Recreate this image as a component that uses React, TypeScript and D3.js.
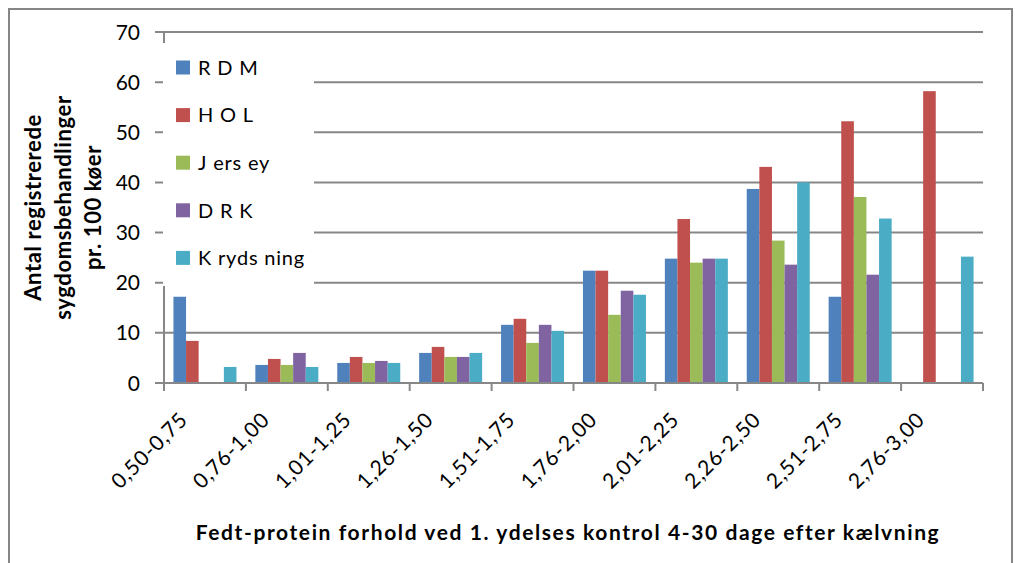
import React from "react";
import * as d3 from "d3";

const categories = [
  "0,50-0,75", "0,76-1,00", "1,01-1,25", "1,26-1,50", "1,51-1,75",
  "1,76-2,00", "2,01-2,25", "2,26-2,50", "2,51-2,75", "2,76-3,00",
];
const seriesNames = ["RDM", "HOL", "Jersey", "DRK", "Krydsning"];
const legendLabels = ["R D M", "H O L", "J ers ey", "D R K", "K ryds ning"];
const seriesColors = ["#4F81BD", "#C0504D", "#9BBB59", "#8064A2", "#4BACC6"];

const RDM = [17.2, 3.6, 4.0, 6.0, 11.6, 22.4, 24.8, 38.7, 17.2, null];
const HOL = [8.4, 4.8, 5.2, 7.2, 12.8, 22.4, 32.7, 43.1, 52.2, 58.2];
const Jersey = [null, 3.6, 4.0, 5.2, 8.0, 13.6, 24.0, 28.4, 37.1, null];
const DRK = [null, 6.0, 4.4, 5.2, 11.6, 18.4, 24.8, 23.6, 21.6, null];
const Krydsning = [3.2, 3.2, 4.0, 6.0, 10.4, 17.6, 24.8, 40.0, 32.8, 25.2];
const seriesValues = [RDM, HOL, Jersey, DRK, Krydsning];

const yTicks = [0, 10, 20, 30, 40, 50, 60, 70];
const yTitleLines = ["Antal registrerede", "sygdomsbehandlinger", "pr. 100 køer"];
const xTitle = "Fedt-protein forhold ved 1. ydelses kontrol 4-30 dage efter kælvning";

const W = 1015;
const H = 563;
const plot = { left: 164, right: 983, top: 32, bottom: 383 };
const GRID = "#878787";
const FONT = "Lato, 'Open Sans', sans-serif";

export default function App() {
  const x = d3.scaleBand<string>().domain(categories).range([plot.left, plot.right]);
  const bw = x.bandwidth();
  const gap = (bw * 0.75) / 6.5;
  const xs = d3
    .scaleBand<string>()
    .domain(seriesNames)
    .range([gap, bw - gap]);
  const y = d3.scaleLinear().domain([0, 70]).range([plot.bottom, plot.top]);

  const legendY = (i: number) => 67.5 + i * 47.6;

  return (
    <svg
      width={W}
      height={H}
      style={{ position: "absolute", left: 0, top: 0, background: "#fff" }}
      fontFamily={FONT}
    >
      <rect x={0} y={0} width={W} height={H} fill="#fff" />
      <rect x={9} y={9} width={1003} height={620} fill="none" stroke="#868686" strokeWidth={2} />

      {/* gridlines */}
      {yTicks.map((t) => (
        <line key={"g" + t} x1={plot.left - 9} x2={plot.right} y1={y(t)} y2={y(t)} stroke={GRID} strokeWidth={2} />
      ))}
      {/* y axis */}
      <line x1={plot.left} x2={plot.left} y1={plot.top} y2={plot.bottom + 8} stroke={GRID} strokeWidth={2} />
      {/* x ticks */}
      {categories.map((c, i) => (
        <line key={"xt" + i} x1={(x(c) as number) + bw} x2={(x(c) as number) + bw} y1={plot.bottom} y2={plot.bottom + 8} stroke={GRID} strokeWidth={2} />
      ))}

      {/* bars */}
      {seriesValues.map((vals, si) =>
        vals.map((v, ci) =>
          v == null ? null : (
            <rect
              key={si + "-" + ci}
              x={(x(categories[ci]) as number) + (xs(seriesNames[si]) as number)}
              y={y(v)}
              width={xs.bandwidth()}
              height={y(0) - y(v)}
              fill={seriesColors[si]}
            />
          )
        )
      )}
      <line x1={plot.left - 9} x2={plot.right} y1={y(0)} y2={y(0)} stroke={GRID} strokeWidth={2} />

      {/* y tick labels */}
      {yTicks.map((t) => (
        <text key={"yl" + t} x={140} y={y(t)} dy="0.36em" textAnchor="end" fontSize={21} fill="#000">
          {t}
        </text>
      ))}

      {/* x tick labels */}
      {categories.map((c, i) => {
        const cx = (x(c) as number) + bw / 2 - 16;
        const cy = 421;
        return (
          <text
            key={"xl" + i}
            transform={`translate(${cx},${cy}) rotate(-45)`}
            textAnchor="end"
            fontSize={21}
            letterSpacing={0.8}
            fill="#000"
          >
            {c}
          </text>
        );
      })}

      {/* legend */}
      <rect x={163} y={43} width={151} height={243} fill="#fff" />
      {legendLabels.map((l, i) => (
        <g key={"lg" + i}>
          <rect x={176} y={legendY(i) - 7} width={14} height={14} fill={seriesColors[i]} />
          <text x={198} y={legendY(i)} dy="0.36em" fontSize={20} letterSpacing={0.8} fill="#000">
            {l}
          </text>
        </g>
      ))}

      {/* y title */}
      {yTitleLines.map((l, i) => (
        <text
          key={"yt" + i}
          transform={`translate(${33 + i * 30},${(plot.top + plot.bottom) / 2}) rotate(-90)`}
          textAnchor="middle"
          dy="0.36em"
          fontSize={22}
          fontWeight="bold"
          letterSpacing={0.6}
          fill="#000"
        >
          {l}
        </text>
      ))}

      {/* x title */}
      <text x={568} y={540} textAnchor="middle" fontSize={21} fontWeight="bold" letterSpacing={1.6} fill="#000">
        {xTitle}
      </text>
    </svg>
  );
}
